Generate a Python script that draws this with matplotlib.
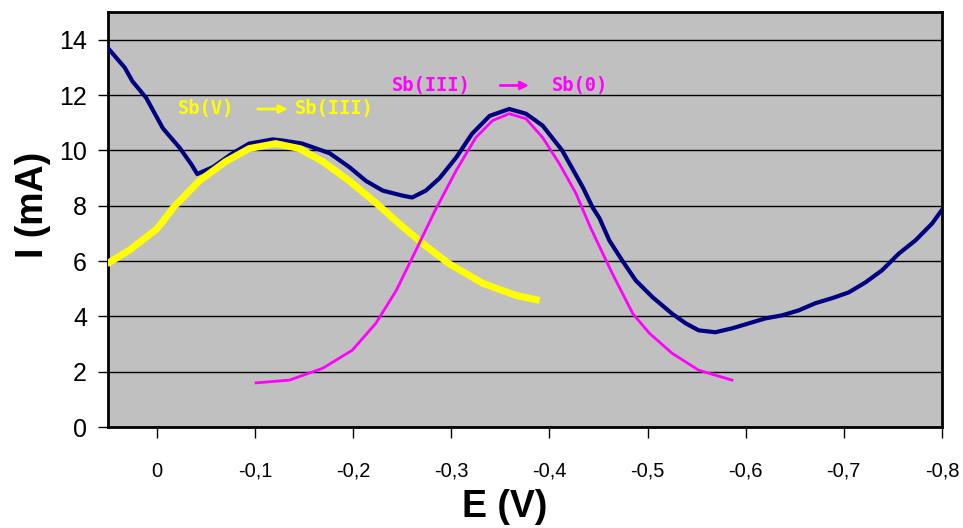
import numpy as np
import matplotlib
matplotlib.use('Agg')
import matplotlib.pyplot as plt

# voltammogram (navy)
E_scan = [0.05, 0.033, 0.025, 0.011, -0.006, -0.023, -0.035, -0.041, -0.057, -0.077,
          -0.094, -0.118, -0.128, -0.148, -0.176, -0.196, -0.213, -0.230, -0.250, -0.260,
          -0.274, -0.288, -0.305, -0.321, -0.339, -0.359, -0.376, -0.393, -0.413, -0.434,
          -0.444, -0.451, -0.461, -0.474, -0.488, -0.505, -0.525, -0.539, -0.552, -0.569,
          -0.586, -0.603, -0.620, -0.637, -0.654, -0.671, -0.688, -0.705, -0.722, -0.739,
          -0.756, -0.773, -0.790, -0.800]
I_scan = [13.7, 13.0, 12.5, 11.9, 10.8, 10.1, 9.5, 9.15, 9.4, 9.9,
          10.25, 10.4, 10.36, 10.25, 9.9, 9.4, 8.9, 8.55, 8.37, 8.3,
          8.55, 9.0, 9.75, 10.6, 11.25, 11.5, 11.33, 10.9, 10.0, 8.67,
          7.94, 7.55, 6.75, 6.03, 5.3, 4.7, 4.1, 3.75, 3.5, 3.43,
          3.57, 3.75, 3.93, 4.04, 4.22, 4.48, 4.66, 4.87, 5.23, 5.67,
          6.27, 6.75, 7.36, 7.85]

# Sb(V) -> Sb(III) peak (yellow)
E_sb5 = [0.051, 0.028, 0.0, -0.017, -0.043, -0.07, -0.094, -0.121, -0.145, -0.169,
         -0.196, -0.224, -0.247, -0.271, -0.298, -0.332, -0.366, -0.39]
I_sb5 = [5.9, 6.4, 7.17, 7.95, 8.9, 9.6, 10.07, 10.25, 10.07, 9.6,
         8.9, 8.08, 7.35, 6.63, 5.9, 5.2, 4.76, 4.58]

# Sb(III) -> Sb(0) peak (magenta)
E_sb3 = [-0.101, -0.135, -0.169, -0.199, -0.223, -0.244, -0.264, -0.283, -0.305, -0.325,
         -0.342, -0.359, -0.376, -0.393, -0.41, -0.427, -0.442, -0.464, -0.485, -0.502,
         -0.525, -0.552, -0.586]
I_sb3 = [1.6, 1.7, 2.13, 2.78, 3.75, 4.95, 6.4, 7.8, 9.28, 10.47,
         11.08, 11.33, 11.15, 10.47, 9.53, 8.45, 7.2, 5.56, 4.1, 3.39,
         2.67, 2.06, 1.7]

x_ticks = [0, -0.1, -0.2, -0.3, -0.4, -0.5, -0.6, -0.7, -0.8]
x_labels = ['0', '-0,1', '-0,2', '-0,3', '-0,4', '-0,5', '-0,6', '-0,7', '-0,8']
y_ticks = [0, 2, 4, 6, 8, 10, 12, 14]

fig = plt.figure(figsize=(9.63, 5.28), dpi=100)
ax = fig.add_axes([0.1121, 0.191, 0.866, 0.786])
ax.set_facecolor('#C0C0C0')

ax.plot(E_scan, I_scan, color='#000080', lw=3, zorder=3)
ax.plot(E_sb5, I_sb5, color='#FFFF00', lw=5, solid_capstyle='butt', zorder=4)
ax.plot(E_sb3, I_sb3, color='#FF00FF', lw=2, zorder=5)

ax.set_xlim(0.05, -0.8)
ax.set_ylim(0, 15)
ax.set_xticks(x_ticks)
ax.set_xticklabels(x_labels, fontsize=14.5, family='Liberation Sans')
ax.set_yticks(y_ticks)
ax.set_yticklabels([str(v) for v in y_ticks], fontsize=18, family='Liberation Sans')
ax.tick_params(axis='x', direction='out', length=8, width=1, pad=17)
ax.tick_params(axis='y', direction='out', length=7, width=1, pad=8)

ax.yaxis.grid(True, color='black', lw=1)
ax.set_axisbelow(True)
for s in ax.spines.values():
    s.set_linewidth(2)
    s.set_color('black')

ax.set_xlabel('E (V)', fontsize=27, fontweight='bold', family='Liberation Sans')
ax.xaxis.set_label_coords(0.476, -0.15)
ax.set_ylabel('I (mA)', fontsize=27, fontweight='bold', family='Liberation Sans')
ax.yaxis.set_label_coords(-0.068, 0.535)

# annotations
lbl = dict(fontsize=13.5, fontweight='bold', family='DejaVu Sans Mono', ha='left', va='center')
ax.text(-0.021, 11.5, 'Sb(V)', color='#FFFF00', **lbl)
ax.annotate('', xy=(-0.136, 11.5), xytext=(-0.100, 11.5),
            arrowprops=dict(arrowstyle='-|>', color='#FFFF00', lw=2, mutation_scale=12))
ax.text(-0.141, 11.5, 'Sb(III)', color='#FFFF00', **lbl)

ax.text(-0.239, 12.35, 'Sb(III)', color='#FF00FF', **lbl)
ax.annotate('', xy=(-0.382, 12.35), xytext=(-0.347, 12.35),
            arrowprops=dict(arrowstyle='-|>', color='#FF00FF', lw=2, mutation_scale=12))
ax.text(-0.402, 12.35, 'Sb(0)', color='#FF00FF', **lbl)

fig.savefig('out.png', dpi=100, facecolor='white')
